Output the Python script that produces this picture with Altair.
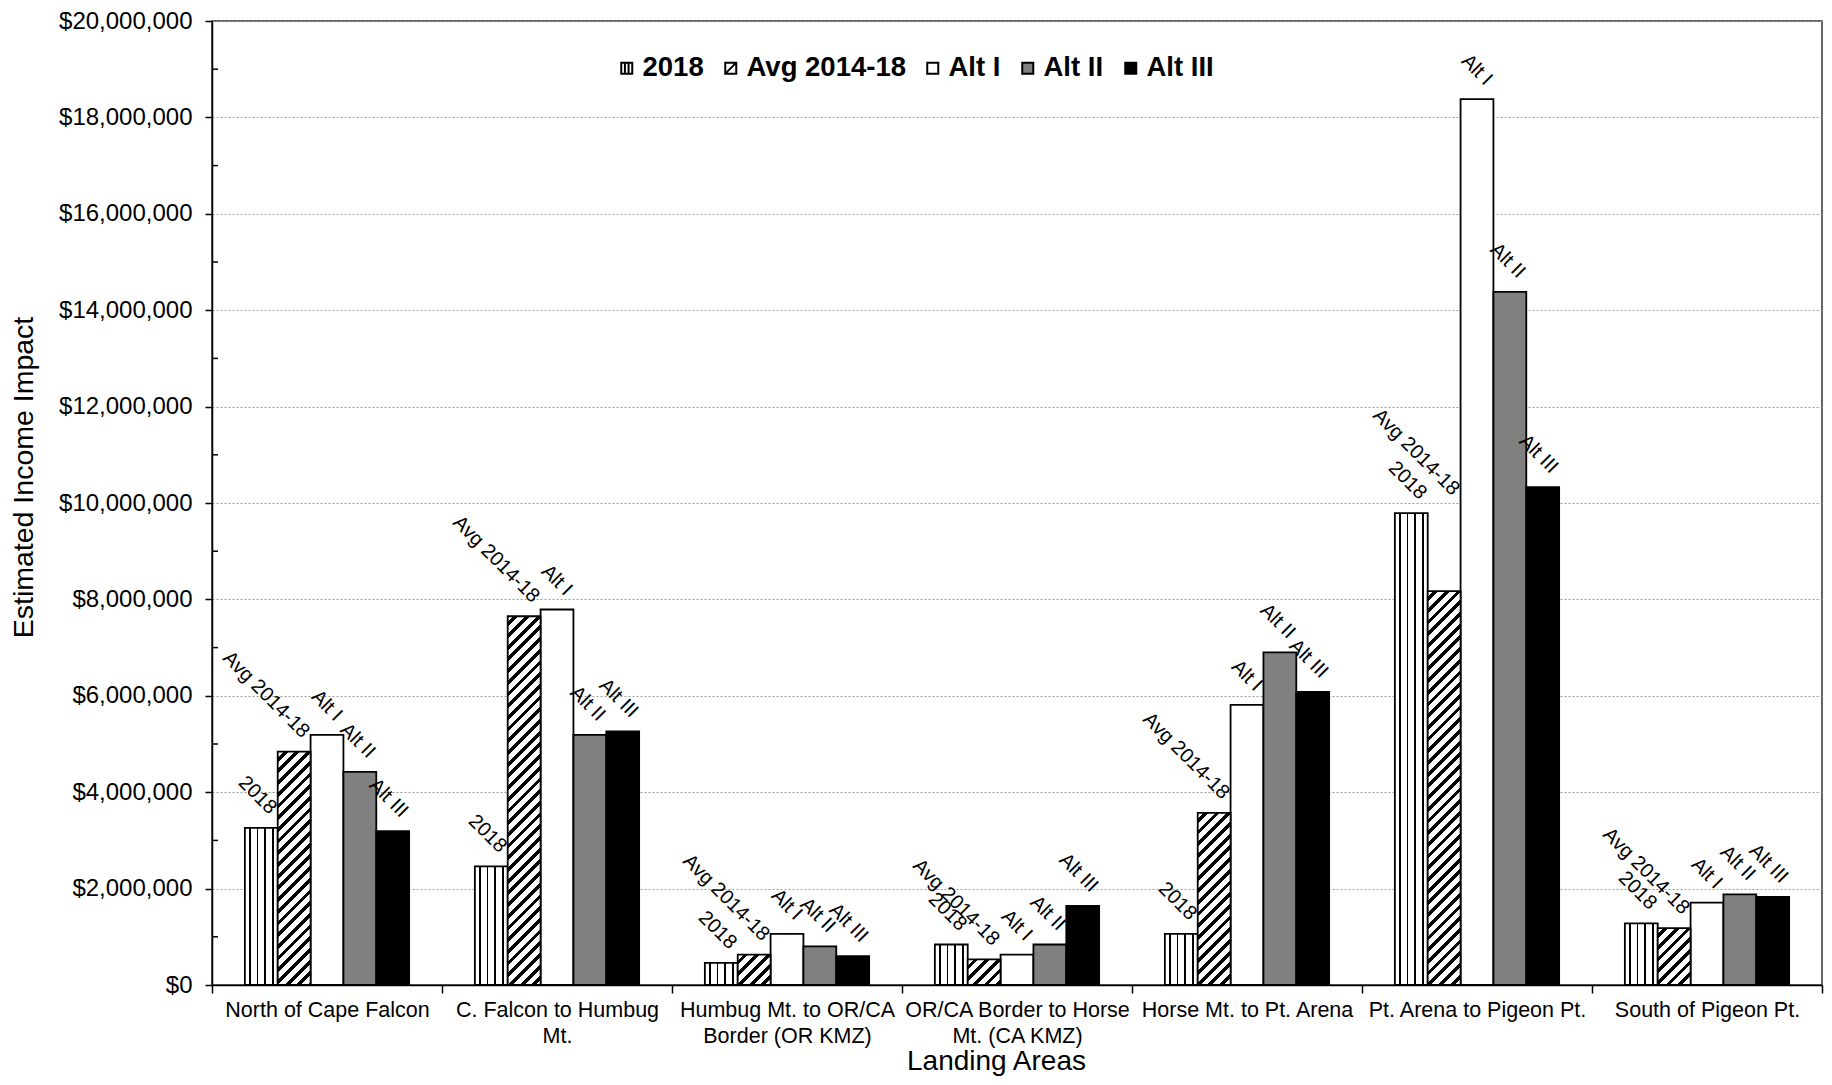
import altair as alt
import pandas as pd

# ---------------- data ----------------
categories = [
    "North of Cape Falcon",
    "C. Falcon to Humbug Mt.",
    "Humbug Mt. to OR/CA Border (OR KMZ)",
    "OR/CA Border to Horse Mt. (CA KMZ)",
    "Horse Mt. to Pt. Arena",
    "Pt. Arena to Pigeon Pt.",
    "South of Pigeon Pt.",
]
category_lines = [
    ["North of Cape Falcon"],
    ["C. Falcon to Humbug", "Mt."],
    ["Humbug Mt. to OR/CA", "Border (OR KMZ)"],
    ["OR/CA Border to Horse", "Mt. (CA KMZ)"],
    ["Horse Mt. to Pt. Arena"],
    ["Pt. Arena to Pigeon Pt."],
    ["South of Pigeon Pt."],
]
series = ["2018", "Avg 2014-18", "Alt I", "Alt II", "Alt III"]
v_2018 = [3260000, 2460000, 460000, 840000, 1060000, 9790000, 1280000]
v_avg = [4840000, 7650000, 630000, 530000, 3570000, 8170000, 1180000]
v_alt1 = [5190000, 7790000, 1060000, 630000, 5810000, 18380000, 1710000]
v_alt2 = [4420000, 5190000, 800000, 840000, 6900000, 14380000, 1880000]
v_alt3 = [3190000, 5260000, 600000, 1640000, 6080000, 10330000, 1830000]
y_ticks = list(range(0, 20000001, 2000000))
minor_ticks = list(range(1000000, 20000000, 2000000))

# ---------------- layout / style ----------------
W, H = 1610, 964
YMAX = 20000000
FONT = "Liberation Sans"
fill_colors = ["white", "white", "white", "#808080", "black"]
legend_paths = [
    "M-1,-1H1V1H-1Z M-0.33,-1V1 M0.33,-1V1",
    "M-1,-1H1V1H-1Z M-1,1L1,-1",
    "M-1,-1H1V1H-1Z",
    "M-1,-1H1V1H-1Z",
    "M-1,-1H1V1H-1Z",
]
BAR_STROKE = 1.8
# manual label nudges (pixels upward), as in the original chart
label_lift_px = {("Pt. Arena to Pigeon Pt.", "Avg 2014-18"): 82}

values_by_series = [v_2018, v_avg, v_alt1, v_alt2, v_alt3]
rows = []
for s, vals in zip(series, values_by_series):
    for c, v in zip(categories, vals):
        rows.append({"category": c, "series": s, "value": v,
                     "lift": label_lift_px.get((c, s), 0)})
df = pd.DataFrame(rows)
df_minor = pd.DataFrame({"value": minor_ticks})

# label expression for multi-line category labels
expr = "datum.value"
for c, lines in zip(categories, category_lines):
    arr = "[" + ",".join("'" + l + "'" for l in lines) + "]"
    expr = f"datum.value == '{c}' ? {arr} : ({expr})"

x_axis = alt.Axis(
    title="Landing Areas", labelExpr=expr, labelAngle=0, labelFontSize=21.5,
    labelFont=FONT, labelColor="black", labelLineHeight=26, labelPadding=6,
    labelLimit=500, labelOverlap=False, tickBand="extent", tickSize=8,
    tickColor="black", tickWidth=1.5, domainColor="black", domainWidth=1.5,
    grid=False, titleFont=FONT, titleFontSize=28, titleFontWeight="normal",
    titleColor="black", titleX=784, titleY=76, titleBaseline="middle",
    titleAlign="center",
)
y_axis = alt.Axis(
    title="Estimated Income Impact", values=y_ticks, format="$,.0f",
    labelFontSize=24, labelFont=FONT, labelColor="black", labelPadding=13,
    tickSize=7, tickColor="black", tickWidth=1.5, domainColor="black",
    domainWidth=1.5, grid=True, gridColor="#9a9a9a", gridDash=[2, 2],
    gridWidth=1, titleFont=FONT, titleFontSize=28.5, titleFontWeight="normal",
    titleColor="black", titleX=-189, titleY=456, titleBaseline="middle",
    titleAlign="center", titleAngle=270,
)

x_scale = alt.Scale(domain=categories, paddingInner=0, paddingOuter=0)
xo_scale = alt.Scale(domain=series, paddingInner=0, paddingOuter=1)
y_scale = alt.Scale(domain=[0, YMAX], nice=False)


def enc(yfield="value"):
    return dict(
        x=alt.X("category:N", sort=categories, scale=x_scale, axis=x_axis),
        xOffset=alt.XOffset("series:N", sort=series, scale=xo_scale),
        y=alt.Y(f"{yfield}:Q", scale=y_scale, axis=y_axis),
    )


def gstops(pairs):
    return [alt.GradientStop(color=c, offset=float(max(0.0, min(1.0, o)))) for c, o in pairs]


# vertical stripes (2018)
def vstripes(centers, lw):
    pairs = [("white", 0.0)]
    for c in centers:
        a, b = c - lw / 2, c + lw / 2
        pairs += [("white", a), ("black", a), ("black", b), ("white", b)]
    pairs.append(("white", 1.0))
    return alt.LinearGradient(gradient="linear", stops=gstops(pairs), x1=0, y1=0, x2=1, y2=0)


bar_w = W / len(categories) / (len(series) + 2)


# diagonal hatch (Avg) - 45 degree in pixel space
def hatch(value, period=11.7, black=4.8):
    h = value / YMAX * H
    L = bar_w + h
    pairs = [("white", 0.0)]
    s = period * 0.5
    while s < L:
        a = s / L
        b = min((s + black) / L, 1.0)
        pairs += [("white", a), ("black", a), ("black", b), ("white", b)]
        s += period
    pairs.append(("white", 1.0))
    c = L / (bar_w ** 2 + h ** 2)
    return alt.LinearGradient(gradient="linear", stops=gstops(pairs),
                              x1=0, y1=0, x2=bar_w * c, y2=h * c)


base = alt.Chart(df)

solid = base.transform_filter(
    alt.FieldOneOfPredicate(field="series", oneOf=["Alt I", "Alt II", "Alt III"])
).transform_calculate(
    fc="datum.series == 'Alt II' ? '#808080' : (datum.series == 'Alt III' ? 'black' : 'white')"
).mark_bar(stroke="black", strokeWidth=BAR_STROKE).encode(
    fill=alt.Fill("fc:N", scale=None), **enc()
)

striped = base.transform_filter(
    alt.FieldEqualPredicate(field="series", equal="2018")
).mark_bar(fill=vstripes([0.15, 0.38, 0.62, 0.85], 0.045), stroke="black",
           strokeWidth=BAR_STROKE).encode(**enc())

hatched_layers = []
for c, v in zip(categories, v_avg):
    hatched_layers.append(
        base.transform_filter(
            alt.FieldEqualPredicate(field="category", equal=c)
        ).transform_filter(
            alt.FieldEqualPredicate(field="series", equal="Avg 2014-18")
        ).mark_bar(fill=hatch(v), stroke="black", strokeWidth=BAR_STROKE).encode(**enc())
    )

legend = alt.Legend(
    orient="none", legendX=401, legendY=33, direction="horizontal", title=None,
    labelFontSize=27.5, labelFontWeight="bold", labelFont=FONT, labelColor="black",
    symbolSize=121, symbolStrokeColor="black", symbolStrokeWidth=2,
    symbolOpacity=1, labelOffset=2, columnPadding=13, padding=0,
)
legend_layer = base.mark_point(filled=True, size=0, stroke="black").encode(
    fill=alt.Fill("series:N", sort=series, scale=alt.Scale(domain=series, range=fill_colors), legend=legend),
    shape=alt.Shape("series:N", sort=series, scale=alt.Scale(domain=series, range=legend_paths), legend=legend),
)

labels = base.transform_calculate(
    label_y=f"datum.value + datum.lift * {YMAX} / {H}"
).mark_text(
    angle=45, align="right", baseline="middle", dx=-3.5, dy=-20.5,
    fontSize=20, font=FONT, color="black",
).encode(text="series:N", **enc("label_y"))

minor = alt.Chart(df_minor).mark_rule(color="black", strokeWidth=1.5).encode(
    y=alt.Y("value:Q", scale=y_scale, axis=y_axis),
    x=alt.value(0), x2=alt.value(6),
)

chart = alt.layer(
    solid, striped, *hatched_layers, labels, minor, legend_layer
).properties(
    width=W, height=H,
    autosize=alt.AutoSizeParams(type="none"),
    padding={"left": 204, "top": 13, "right": 2, "bottom": 92},
).configure(
    font=FONT, background="white"
).configure_view(
    stroke="#333333", strokeWidth=1.5
)

chart.save("out.html", embed_options={"renderer": "svg", "actions": False})
